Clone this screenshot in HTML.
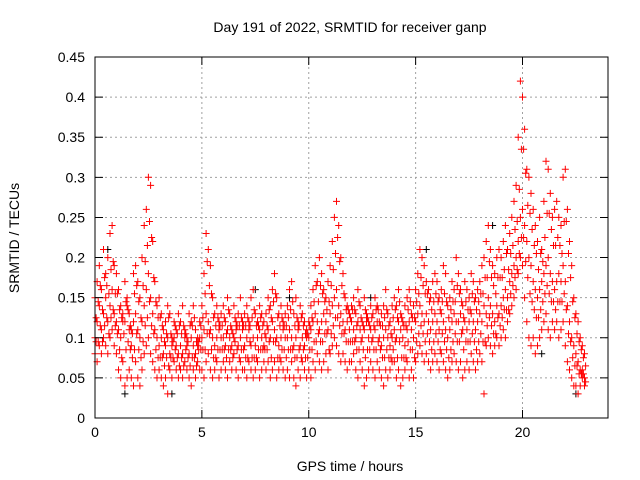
<!DOCTYPE html>
<html><head><meta charset="utf-8"><style>
html,body{margin:0;padding:0;background:#fff;}
svg{display:block;font-family:"Liberation Sans",sans-serif;}
</style></head><body>
<svg id="chart" width="640" height="480">
<rect width="640" height="480" fill="#fff"/>
<text x="350" y="32" font-size="14" text-anchor="middle">Day 191 of 2022, SRMTID for receiver ganp</text>
<text x="350" y="471" font-size="14" text-anchor="middle">GPS time / hours</text>
<text transform="translate(19,238) rotate(-90)" font-size="14" text-anchor="middle">SRMTID / TECUs</text>
<g id="grid"></g><g id="marks"></g><g id="axes"></g>
</svg>
<script>
const xTicks=[0,5,10,15,20];
const yTicks=[0,0.05,0.1,0.15,0.2,0.25,0.3,0.35,0.4,0.45];
const yTickLabels=["0","0.05","0.1","0.15","0.2","0.25","0.3","0.35","0.4","0.45"];
const timeStep=0.1;
const hiVals=[15,17,19,16,21,18,20,23,24,19,18,16,14,12,17,15,13,11,18,19,17,15,20,24,26,30,29,22,17,14,15,13,11,12,14,13,10,12,11,13,12,14,11,10,13,12,14,11,10,12,14,18,23,21,19,15,13,14,12,13,14,12,15,13,11,14,12,13,15,12,13,14,12,15,16,13,12,14,13,12,13,15,14,16,18,15,13,14,12,13,14,16,17,13,15,12,14,13,12,11,12,14,16,19,17,20,18,16,15,17,19,22,25,27,24,20,18,15,14,13,14,15,13,16,14,12,15,13,12,14,13,15,14,12,13,14,16,13,12,14,15,14,16,13,12,14,15,16,13,14,16,18,21,20,19,17,16,15,17,18,17,15,16,19,18,14,15,17,16,20,18,16,14,17,16,15,18,17,15,16,17,19,20,22,24,21,19,18,20,21,20,22,24,21,23,25,27,29,35,42,40,36,31,30,28,26,24,22,25,21,27,32,31,28,25,26,27,25,24,30,31,26,22,19,15,13,12,10,9,8];
const upperVals=[12.5,14.5,16.5,13.5,17.5,16.5,15.5,18.5,19.5,15.5,15.5,13.5,12.5,10.5,14.5,13.5,11.5,10.5,15.5,16.5,14.5,12.5,16.5,19.5,21.5,24.5,22.5,17.5,14.5,12.5,12.5,11.5,9.5,10.5,12.5,10.5,9.5,11.5,10.5,11.5,10.5,11.5,10.5,9.5,11.5,11.5,12.5,9.5,9.5,11.5,12.5,15.5,19.5,16.5,15.5,12.5,11.5,12.5,11.5,11.5,12.5,10.5,13.5,11.5,10.5,12.5,11.5,11.5,12.5,11.5,11.5,12.5,11.5,12.5,13.5,11.5,11.5,12.5,11.5,10.5,11.5,13.5,12.5,14.5,15.5,12.5,11.5,12.5,11.5,11.5,12.5,13.5,14.5,11.5,12.5,11.5,12.5,11.5,10.5,10.5,11.5,12.5,14.5,16.5,14.5,16.5,15.5,14.5,13.5,14.5,16.5,18.5,20.5,22.5,19.5,16.5,15.5,13.5,13.5,12.5,13.5,13.5,11.5,14.5,12.5,11.5,13.5,12.5,11.5,12.5,11.5,13.5,13.5,11.5,11.5,12.5,13.5,11.5,10.5,12.5,13.5,12.5,14.5,12.5,11.5,11.5,13.5,14.5,12.5,12.5,14.5,15.5,17.5,16.5,15.5,15.5,14.5,13.5,14.5,15.5,14.5,13.5,14.5,15.5,14.5,12.5,13.5,14.5,14.5,16.5,15.5,14.5,12.5,14.5,13.5,13.5,15.5,14.5,13.5,14.5,15.5,15.5,17.5,17.5,19.5,17.5,16.5,15.5,17.5,17.5,17.5,18.5,20.5,18.5,20.5,21.5,23.5,24.5,28.5,33.5,33.5,30.5,26.5,25.5,23.5,21.5,20.5,18.5,20.5,19.5,22.5,25.5,25.5,23.5,21.5,21.5,22.5,21.5,20.5,24.5,24.5,20.5,17.5,14.5,12.5,10.5,9.5,8.5,7.5,6.5];
const midVals=[10,12,14,11,13,15,12,14,16,13,12,11,10,13,12,14,11,9,12,13,11,10,12,14,16,18,15,13,11,10,9,10,8,9,10,8,9,10,9,8,9,8,10,9,8,10,9,8,9,10,10,11,13,12,11,10,9,10,11,10,10,9,11,10,9,10,11,9,10,11,9,10,11,9,10,9,10,11,10,9,10,11,10,12,11,10,9,10,11,10,10,11,10,9,10,11,9,10,9,10,10,11,12,13,12,11,12,13,12,11,13,14,15,16,14,13,12,11,12,11,12,11,10,12,11,10,11,12,10,11,10,11,12,10,9,10,11,10,9,10,11,10,12,11,10,9,11,12,11,10,12,13,14,13,12,13,12,11,12,13,12,11,13,12,11,10,11,12,13,12,12,13,11,12,11,12,13,12,11,12,13,12,14,13,15,14,13,12,14,13,14,15,16,15,17,18,19,20,22,25,26,24,22,20,19,17,16,15,16,17,18,19,20,18,17,16,17,18,17,19,17,14,12,10,9,8,7,6,6,5];
const lowerVals=[9.5,9.5,11.5,9.5,11.5,12.5,10.5,12.5,13.5,11.5,10.5,8.5,7.5,10.5,8.5,9.5,8.5,7.5,8.5,10.5,8.5,7.5,9.5,11.5,12.5,14.5,11.5,10.5,8.5,7.5,7.5,7.5,6.5,7.5,6.5,7.5,7.5,8.5,7.5,6.5,7.5,6.5,8.5,7.5,6.5,7.5,7.5,6.5,8.5,8.5,8.5,8.5,10.5,10.5,8.5,7.5,7.5,8.5,8.5,8.5,8.5,7.5,8.5,8.5,7.5,9.5,8.5,7.5,8.5,8.5,7.5,7.5,9.5,7.5,7.5,7.5,8.5,8.5,8.5,8.5,8.5,9.5,7.5,9.5,9.5,7.5,7.5,8.5,8.5,7.5,8.5,8.5,8.5,7.5,7.5,8.5,7.5,8.5,7.5,7.5,8.5,8.5,9.5,9.5,10.5,9.5,9.5,10.5,10.5,8.5,10.5,11.5,12.5,12.5,11.5,10.5,10.5,9.5,9.5,9.5,9.5,9.5,8.5,8.5,9.5,8.5,7.5,8.5,8.5,9.5,8.5,8.5,9.5,8.5,7.5,7.5,8.5,7.5,7.5,8.5,9.5,7.5,9.5,7.5,7.5,7.5,9.5,8.5,8.5,7.5,9.5,10.5,11.5,10.5,9.5,10.5,9.5,8.5,9.5,10.5,9.5,8.5,10.5,9.5,8.5,7.5,8.5,9.5,10.5,9.5,9.5,10.5,8.5,9.5,9.5,9.5,10.5,9.5,8.5,9.5,10.5,9.5,9.5,11.5,12.5,11.5,10.5,10.5,12.5,11.5,12.5,13.5,13.5,13.5,15.5,16.5,17.5,18.5,20.5,22.5,22.5,19.5,17.5,15.5,14.5,13.5,12.5,12.5,13.5,14.5,15.5,16.5,15.5,14.5,14.5,13.5,14.5,14.5,14.5,15.5,13.5,10.5,9.5,7.5,6.5,6.5,5.5,5.5,5.5,4.5];
const loVals=[8,7,9,8,10,9,8,10,11,9,8,6,5,7,4,5,6,5,4,7,5,4,6,8,9,10,8,7,6,5,6,5,4,5,3,6,5,7,6,5,6,5,7,6,5,4,6,5,7,6,6,5,7,8,6,5,6,7,5,6,7,6,5,7,6,8,6,5,7,6,6,5,7,6,5,6,7,5,6,7,6,7,5,6,7,5,6,7,6,5,6,5,7,5,4,6,5,7,6,5,6,5,7,6,8,7,6,7,8,6,8,9,10,9,8,7,8,7,6,7,7,8,6,5,7,6,4,5,6,7,6,5,7,6,5,4,6,5,6,7,7,5,6,4,5,6,7,5,6,5,7,8,9,8,7,8,7,6,7,8,7,6,8,7,6,5,6,7,8,7,6,7,5,6,7,6,8,7,6,7,8,7,3,9,10,9,8,9,10,9,10,11,10,12,13,14,15,16,18,20,19,15,12,10,9,10,8,9,10,11,12,13,11,10,12,11,12,10,11,12,9,7,6,5,4,4,3,4,5,4];
const blackTimes=[0.6,1.4,3.6,7.5,9.1,12.9,15.5,18.6,20.9,22.5];
const blackVals=[0.21,0.03,0.03,0.16,0.15,0.15,0.21,0.24,0.08,0.03];
const L=95,R=608,T=57,B=418,XMAX=24,YMAX=0.45;
const sx=v=>L+(R-L)*v/XMAX, sy=v=>B-(B-T)*v/YMAX;
const NS="http://www.w3.org/2000/svg";
function mk(tag,attrs,parent){const e=document.createElementNS(NS,tag);for(const k in attrs)e.setAttribute(k,attrs[k]);parent.appendChild(e);return e;}
const grid=document.getElementById('grid'),marks=document.getElementById('marks'),axes=document.getElementById('axes');
yTicks.forEach((v,i)=>{const y=sy(v);
 if(i>0&&i<yTicks.length-1){const g=mk('line',{x1:L,x2:R,y1:y,y2:y,stroke:'#a0a0a0','stroke-dasharray':'2,3'},grid);
 
 }
 const t=mk('path',{d:`M${L},${y}h8M${R},${y}h-8`,stroke:'#000'},axes);
 
 
 const lb=mk('text',{x:L-10,y:y+5,'font-size':14,'text-anchor':'end'},axes);lb.textContent=yTickLabels[i];
 
 
});
xTicks.forEach(v=>{const x=sx(v);
 if(v>0){const g=mk('line',{x1:x,x2:x,y1:T,y2:B,stroke:'#a0a0a0','stroke-dasharray':'2,3'},grid);
 
 }
 const t=mk('path',{d:`M${x},${B}v-8M${x},${T}v8`,stroke:'#000'},axes);
 
 
 const lb=mk('text',{x:x,y:B+19,'font-size':14,'text-anchor':'middle'},axes);lb.textContent=String(v);
 
 
});
const fr=mk('rect',{x:L,y:T,width:R-L,height:B-T,fill:'none',stroke:'#000'},axes);


function cross(t,v){const x=sx(t),y=sy(v);return `M${(x-3.5).toFixed(1)},${y.toFixed(1)}h7M${x.toFixed(1)},${(y-3.5).toFixed(1)}v7`;}
let bd='';blackTimes.forEach((t,i)=>{bd+=cross(t,blackVals[i]);});
const bp=mk('path',{d:bd,stroke:'#000','stroke-width':1,fill:'none'},marks);


let rd='';
[loVals,midVals,hiVals].forEach(arr=>arr.forEach((v,i)=>{rd+=cross(i*timeStep,v/100);}));
[lowerVals,upperVals].forEach(arr=>arr.forEach((v,i)=>{rd+=cross(i*timeStep+timeStep/2,v/100);}));
const rp=mk('path',{d:rd,stroke:'#ff0000','stroke-width':1,fill:'none'},marks);


</script>
</body></html>
